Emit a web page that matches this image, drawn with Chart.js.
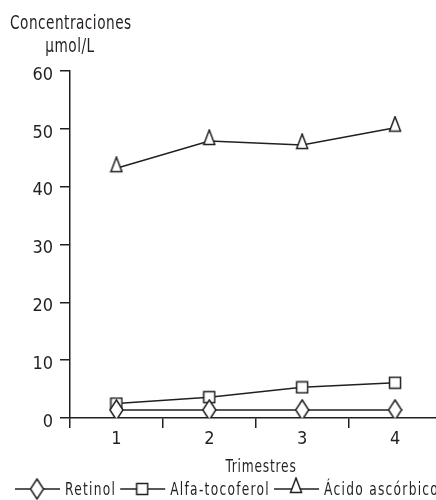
<!DOCTYPE html>
<html lang="es">
<head>
  <meta charset="UTF-8">
  <title>Concentraciones por trimestre</title>
  <script src="https://cdn.jsdelivr.net/npm/chart.js"></script>
  <style>
    html, body { margin: 0; padding: 0; background: #fff; overflow: hidden; }
    #wrap { width: 436px; height: 500px; overflow: hidden; }
    #chart { display: block; }
  </style>
</head>
<body>
  <div id="wrap"><canvas id="chart" width="450" height="500"></canvas></div>

  <script>
    // data
    const trimestres = ['1', '2', '3', '4'];
    const retinol = [1.4, 1.4, 1.4, 1.4];
    const alfaTocoferol = [2.5, 3.6, 5.3, 6.1];
    const acidoAscorbico = [43.2, 47.9, 47.2, 50.2];
    const yTicks = [0, 10, 20, 30, 40, 50, 60];

    const FONT = '"DejaVu Sans Condensed", "DejaVu Sans", sans-serif';
    const INK = '#231f20';
    const SQUEEZE = 0.8; // the original type is a narrow grotesque

    // small canvases used as point markers
    function marker(w, h, draw) {
      const c = document.createElement('canvas');
      c.width = w; c.height = h;
      const g = c.getContext('2d');
      g.fillStyle = '#fff';
      g.strokeStyle = INK;
      g.lineWidth = 1.5;
      g.beginPath();
      draw(g);
      g.closePath();
      g.fill();
      g.stroke();
      return c;
    }
    const diamond = marker(15, 22, g => {
      g.moveTo(7.5, 1); g.lineTo(14, 11); g.lineTo(7.5, 21); g.lineTo(1, 11);
    });
    const square = marker(14, 14, g => {
      g.rect(1.5, 1.5, 11, 11);
    });
    const triangle = marker(14, 24, g => {
      g.moveTo(7, 1); g.lineTo(12.5, 15.5); g.lineTo(1.5, 15.5);
    });

    function series(label, data, img) {
      return {
        label: label,
        data: data,
        borderColor: INK,
        borderWidth: 1.5,
        pointStyle: img,
        pointRadius: 7,
        pointHoverRadius: 7,
        fill: false,
        tension: 0
      };
    }

    const datasets = [
      series('Retinol', retinol, diamond),
      series('Alfa-tocoferol', alfaTocoferol, square),
      series('Ácido ascórbico', acidoAscorbico, triangle)
    ];

    // narrow, slightly spaced text; returns drawn width
    function narrowText(ctx, text, x, y, size, align, spacing) {
      ctx.save();
      ctx.font = size + 'px ' + FONT;
      ctx.letterSpacing = spacing + 'px';
      ctx.textAlign = 'left';
      ctx.textBaseline = 'alphabetic';
      const w = ctx.measureText(text).width * SQUEEZE;
      const left = align === 'center' ? x - w / 2 : x;
      ctx.translate(left, y);
      ctx.scale(SQUEEZE, 1);
      ctx.fillStyle = INK;
      ctx.fillText(text, 0, 0);
      ctx.restore();
      return w;
    }

    // axis titles and the line+marker legend
    const extras = {
      id: 'extras',
      afterDraw(chart) {
        const ctx = chart.ctx;
        narrowText(ctx, 'Concentraciones', 10, 29, 19, 'left', 0.6);
        narrowText(ctx, 'µmol/L', 70, 52, 19, 'center', 0.6);
        narrowText(ctx, 'Trimestres', 261, 472, 17, 'center', 1);

        // legend row
        let x = 15;
        const y = 489;
        chart.data.datasets.forEach(ds => {
          ctx.save();
          ctx.strokeStyle = INK;
          ctx.lineWidth = 1.5;
          ctx.beginPath();
          ctx.moveTo(x, y);
          ctx.lineTo(x + 45, y);
          ctx.stroke();
          const img = ds.pointStyle;
          ctx.drawImage(img, x + 22 - img.width / 2, y - img.height / 2);
          ctx.restore();
          const w = narrowText(ctx, ds.label, x + 50, y + 6, 17, 'left', 1.6);
          x += 50 + w + 4;
        });
      }
    };

    new Chart(document.getElementById('chart'), {
      type: 'line',
      data: { labels: trimestres, datasets: datasets },
      options: {
        responsive: false,
        animation: false,
        layout: { padding: { top: 71, right: 0, bottom: 0, left: 0 } },
        plugins: {
          legend: { display: false },
          tooltip: { enabled: false }
        },
        scales: {
          x: {
            offset: true,
            grid: { offset: true, drawOnChartArea: false, tickLength: 10, color: INK, lineWidth: 1.5 },
            border: { color: INK, width: 1.5 },
            ticks: { color: INK, font: { family: FONT, size: 18 }, padding: 1 },
            afterFit(scale) { scale.height = 82; }
          },
          y: {
            min: 0,
            max: 60,
            afterBuildTicks(scale) { scale.ticks = yTicks.map(v => ({ value: v })); },
            grid: { drawOnChartArea: false, tickLength: 10, color: INK, lineWidth: 1.5 },
            border: { color: INK, width: 1.5 },
            ticks: {
              color: INK,
              font: { family: FONT, size: 18, lineHeight: 0.45 },
              padding: 7,
              // empty first line nudges the number a little below its tick
              callback: value => ['', String(value)]
            },
            afterFit(scale) { scale.width = 70; }
          }
        }
      },
      plugins: [extras]
    });
  </script>
</body>
</html>
